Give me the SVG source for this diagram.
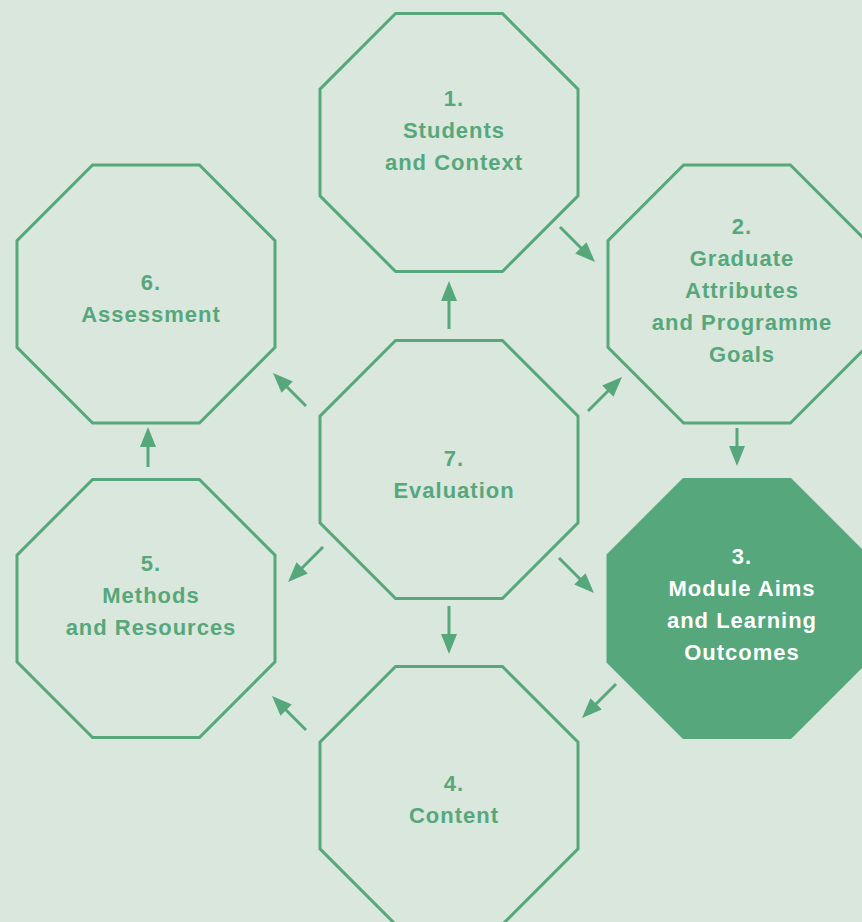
<svg xmlns="http://www.w3.org/2000/svg" xmlns:xlink="http://www.w3.org/1999/xlink" width="862" height="922" viewBox="0 0 862 922">
<style>
.oct{fill:none;stroke:#56a77c;stroke-width:3}
.octf{fill:#56a77c;stroke:#56a77c;stroke-width:3}
.t{font-family:"Liberation Sans",Arial,sans-serif;font-weight:bold;font-size:22px;letter-spacing:1px;fill:#56a77c;text-anchor:middle}
.tw{fill:#ffffff}
.c{stroke:#56a77c;stroke-width:3;fill:none;marker-end:url(#ah)}
</style>
<defs>
<polygon id="oc" points="-53.4,-129 53.4,-129 129,-53.4 129,53.4 53.4,129 -53.4,129 -129,53.4 -129,-53.4"/>
<marker id="ah" markerUnits="userSpaceOnUse" viewBox="0 0 20 16" markerWidth="20" markerHeight="16" refX="8" refY="8" orient="auto">
<path d="M0,0 L20,8 L0,16 z" fill="#56a77c"/>
</marker>
</defs>
<rect width="862" height="922" fill="#dae7dd"/>
<g id="n1">
<use xlink:href="#oc" href="#oc" class="oct" transform="translate(449,142.5)"/>
<text class="t" x="454" y="106">1.</text>
<text class="t" x="454" y="138">Students</text>
<text class="t" x="454" y="170">and Context</text>
</g>
<g id="n2">
<use xlink:href="#oc" href="#oc" class="oct" transform="translate(737,294)"/>
<text class="t" x="742" y="234">2.</text>
<text class="t" x="742" y="266">Graduate</text>
<text class="t" x="742" y="298">Attributes</text>
<text class="t" x="742" y="330">and Programme</text>
<text class="t" x="742" y="362">Goals</text>
</g>
<g id="n3">
<use xlink:href="#oc" href="#oc" class="octf" transform="translate(737,608.5)"/>
<text class="t tw" x="742" y="564">3.</text>
<text class="t tw" x="742" y="596">Module Aims</text>
<text class="t tw" x="742" y="628">and Learning</text>
<text class="t tw" x="742" y="660">Outcomes</text>
</g>
<g id="n4">
<use xlink:href="#oc" href="#oc" class="oct" transform="translate(449,795.5)"/>
<text class="t" x="454" y="791">4.</text>
<text class="t" x="454" y="823">Content</text>
</g>
<g id="n5">
<use xlink:href="#oc" href="#oc" class="oct" transform="translate(146,608.5)"/>
<text class="t" x="151" y="571">5.</text>
<text class="t" x="151" y="603">Methods</text>
<text class="t" x="151" y="635">and Resources</text>
</g>
<g id="n6">
<use xlink:href="#oc" href="#oc" class="oct" transform="translate(146,294)"/>
<text class="t" x="151" y="290">6.</text>
<text class="t" x="151" y="322">Assessment</text>
</g>
<g id="n7">
<use xlink:href="#oc" href="#oc" class="oct" transform="translate(449,469.5)"/>
<text class="t" x="454" y="466">7.</text>
<text class="t" x="454" y="498">Evaluation</text>
</g>
<g id="connectors">
<line class="c" x1="560" y1="227" x2="586.5" y2="253.5"/>
<line class="c" x1="737" y1="428" x2="737" y2="454"/>
<line class="c" x1="588" y1="411" x2="613.5" y2="385.5"/>
<line class="c" x1="449" y1="329" x2="449" y2="293"/>
<line class="c" x1="306" y1="406" x2="281.5" y2="381.5"/>
<line class="c" x1="148" y1="467" x2="148" y2="439"/>
<line class="c" x1="323" y1="547" x2="296.5" y2="573.5"/>
<line class="c" x1="559" y1="558" x2="585.5" y2="584.5"/>
<line class="c" x1="449" y1="606" x2="449" y2="642"/>
<line class="c" x1="616" y1="684" x2="590.5" y2="709.5"/>
<line class="c" x1="306" y1="730" x2="280.5" y2="704.5"/>
</g>
</svg>
